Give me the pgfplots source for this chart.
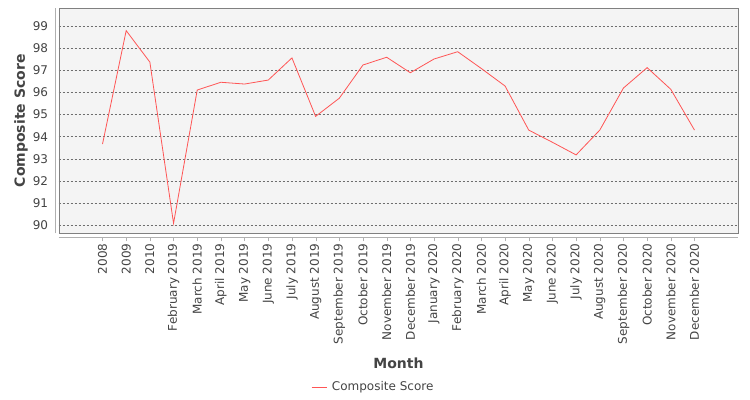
\documentclass[border=0pt]{standalone}
\usepackage{fontspec}
\setmainfont{DejaVu Sans}
\usepackage{pgfplots}
\pgfplotsset{compat=1.18}

\definecolor{seriesred}{RGB}{255,85,85}
\definecolor{plotbg}{RGB}{244,244,244}
\definecolor{framegray}{RGB}{128,128,128}
\definecolor{axisgray}{RGB}{176,176,176}
\definecolor{gridgray}{RGB}{110,110,110}
\definecolor{textgray}{RGB}{68,68,68}

\begin{document}
\begin{tikzpicture}
\path[use as bounding box] (0bp,0bp) rectangle (750bp,400bp);
\begin{axis}[
    at={(58.7bp,166.7bp)}, anchor=south west,
    scale only axis,
    width=679.6bp, height=225bp,
    xmin=-1.85, xmax=26.85,
    ymin=89.64, ymax=99.8,
    xtick={0,...,25},
    xticklabels={2008,2009,2010,February 2019,March 2019,April 2019,May 2019,June 2019,July 2019,August 2019,September 2019,October 2019,November 2019,December 2019,January 2020,February 2020,March 2020,April 2020,May 2020,June 2020,July 2020,August 2020,September 2020,October 2020,November 2020,December 2020},
    ytick={90,...,99},
    xtick pos=bottom, ytick pos=left,
    tick align=outside,
    major tick length=4bp,
    xtick style={draw=axisgray, yshift=-4bp},
    ytick style={draw=none},
    axis line style={draw=framegray},
    axis background/.style={fill=plotbg},
    ymajorgrids,
    major grid style={draw=gridgray, dash pattern=on 2bp off 2bp, line width=0.5bp},
    /pgf/number format/assume math mode=true,
    tick label style={font=\fontsize{12bp}{14bp}\selectfont, text=textgray},
    xticklabel style={rotate=90, anchor=east, inner sep=0pt},
    yticklabel style={anchor=east, inner sep=0pt},
    xticklabel shift=6bp,
    yticklabel shift=6.4bp,
    xlabel={Month},
    ylabel={Composite Score},
    label style={font=\bfseries\fontsize{14bp}{16bp}\selectfont, text=textgray},
    xlabel style={at={(axis description cs:0.5,-0.5764)}, anchor=center},
    ylabel style={at={(axis description cs:-0.0555,0.5)}, anchor=center},
    legend style={at={(axis description cs:0.3712,-0.683)}, anchor=west,
        draw=none, fill=none, inner sep=0pt,
        font=\fontsize{12bp}{14bp}\selectfont, text=textgray,
        nodes={inner sep=0pt},
        /tikz/every odd column/.append style={column sep=5bp}},
    legend image code/.code={\draw[#1] (0bp,0bp) -- (15bp,0bp);},
    clip=false,
]
\addplot[seriesred, line width=0.8bp, mark=none] coordinates {
    (0,93.67) (1,98.79) (2,97.37) (3,90.09) (4,96.11) (5,96.46)
    (6,96.38) (7,96.56) (8,97.56) (9,94.92) (10,95.74) (11,97.24)
    (12,97.59) (13,96.89) (14,97.51) (15,97.84) (16,97.08) (17,96.29)
    (18,94.30) (19,93.75) (20,93.18) (21,94.30) (22,96.20) (23,97.12)
    (24,96.14) (25,94.30)
};
\addlegendentry{Composite Score}
\draw[axisgray] ([xshift=-3.4bp]rel axis cs:0,0) -- ([xshift=-3.4bp]rel axis cs:0,1);
\draw[axisgray] ([yshift=-4bp]rel axis cs:0,0) -- ([yshift=-4bp]rel axis cs:1,0);
\end{axis}
\end{tikzpicture}
\end{document}
